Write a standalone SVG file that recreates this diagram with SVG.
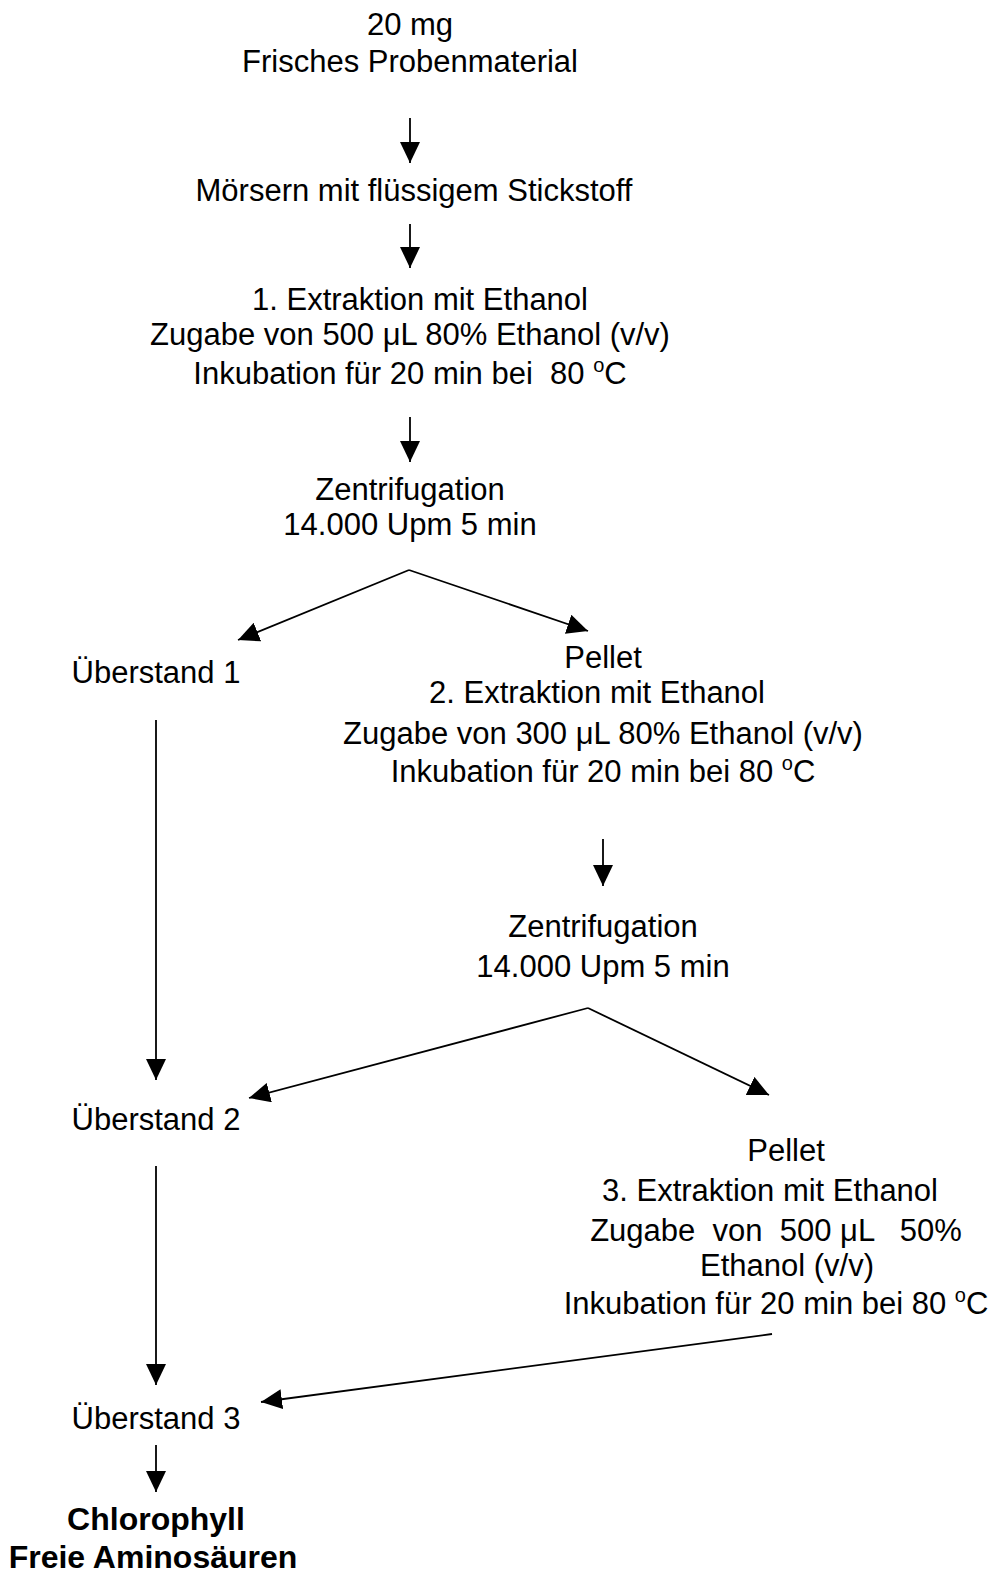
<svg xmlns="http://www.w3.org/2000/svg" width="1002" height="1576" viewBox="0 0 1002 1576">
<style>
text{font-family:"Liberation Sans",Arial,sans-serif;font-size:31px;fill:#000;text-anchor:middle}
.b{font-weight:bold;font-size:32px}
.c{stroke:#000;stroke-width:1.8;fill:none;marker-end:url(#ah)}
</style>
<defs>
<marker id="ah" viewBox="0 0 21 20" refX="21" refY="10" markerWidth="21" markerHeight="20" markerUnits="userSpaceOnUse" orient="auto">
<path d="M0,0 L21,10 L0,20 Z" fill="#000"/>
</marker>
</defs>
<rect width="1002" height="1576" fill="#fff"/>
<g id="connectors">
<line class="c" x1="410" y1="118" x2="410" y2="163"/>
<line class="c" x1="410" y1="224" x2="410" y2="268"/>
<line class="c" x1="410" y1="417" x2="410" y2="462"/>
<line class="c" x1="409" y1="570" x2="238" y2="640"/>
<line class="c" x1="409" y1="570" x2="588" y2="631"/>
<line class="c" x1="156" y1="720" x2="156" y2="1080"/>
<line class="c" x1="603" y1="839" x2="603" y2="886"/>
<line class="c" x1="588" y1="1008" x2="249" y2="1098"/>
<line class="c" x1="588" y1="1008" x2="769" y2="1095"/>
<line class="c" x1="156" y1="1166" x2="156" y2="1385"/>
<line class="c" x1="772" y1="1334" x2="261" y2="1402"/>
<line class="c" x1="156" y1="1445" x2="156" y2="1492"/>
</g>
<g id="start">
<text x="410" y="35">20 mg</text>
<text x="410" y="72">Frisches Probenmaterial</text>
</g>
<g id="moersern">
<text x="414" y="201">Mörsern mit flüssigem Stickstoff</text>
</g>
<g id="extraktion1">
<text x="420" y="310">1. Extraktion mit Ethanol</text>
<text x="410" y="345">Zugabe von 500 μL 80% Ethanol (v/v)</text>
<text x="410" y="384" xml:space="preserve">Inkubation für 20 min bei  80 <tspan dy="-12" font-size="20">o</tspan><tspan dy="12">C</tspan></text>
</g>
<g id="zentrifugation1">
<text x="410" y="500">Zentrifugation</text>
<text x="410" y="535">14.000 Upm 5 min</text>
</g>
<g id="ueberstand1">
<text x="156" y="683">Überstand 1</text>
</g>
<g id="pellet1">
<text x="603" y="668">Pellet</text>
<text x="597" y="703">2. Extraktion mit Ethanol</text>
<text x="603" y="744">Zugabe von 300 μL 80% Ethanol (v/v)</text>
<text x="603" y="782">Inkubation für 20 min bei 80 <tspan dy="-12" font-size="20">o</tspan><tspan dy="12">C</tspan></text>
</g>
<g id="zentrifugation2">
<text x="603" y="937">Zentrifugation</text>
<text x="603" y="977">14.000 Upm 5 min</text>
</g>
<g id="ueberstand2">
<text x="156" y="1130">Überstand 2</text>
</g>
<g id="pellet2">
<text x="786" y="1161">Pellet</text>
<text x="770" y="1201">3. Extraktion mit Ethanol</text>
<text x="776" y="1241" xml:space="preserve">Zugabe  von  500 μL   50%</text>
<text x="787" y="1276">Ethanol (v/v)</text>
<text x="776" y="1314">Inkubation für 20 min bei 80 <tspan dy="-12" font-size="20">o</tspan><tspan dy="12">C</tspan></text>
</g>
<g id="ueberstand3">
<text x="156" y="1429">Überstand 3</text>
</g>
<g id="ergebnis">
<text class="b" x="156" y="1530">Chlorophyll</text>
<text class="b" x="153" y="1568">Freie Aminosäuren</text>
</g>
</svg>
